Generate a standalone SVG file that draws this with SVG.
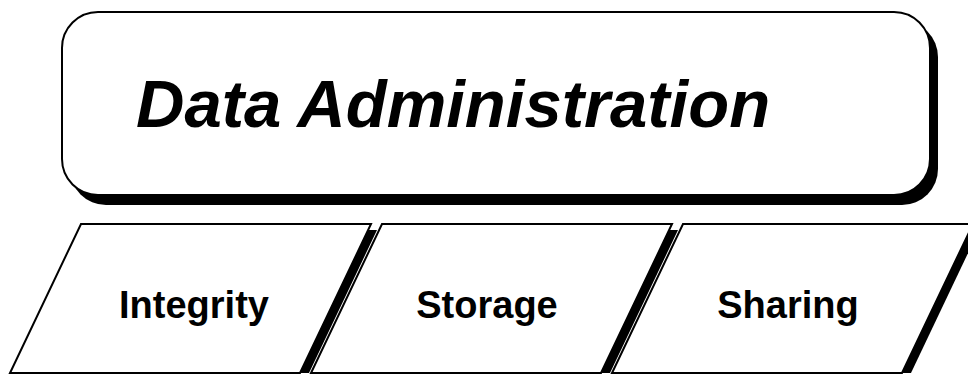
<svg xmlns="http://www.w3.org/2000/svg" width="968" height="375" viewBox="0 0 968 375">
<style>
.shape{fill:#fff;stroke:#000;stroke-width:2}
.shadow{fill:#000;stroke:none}
.title{font-family:"Liberation Sans",Arial,sans-serif;font-weight:bold;font-style:italic;font-size:67px;fill:#000}
.label{font-family:"Liberation Sans",Arial,sans-serif;font-weight:bold;font-size:38px;fill:#000;text-anchor:middle}
</style>
<rect width="968" height="375" fill="#fff"/>
<g id="data-administration">
<rect class="shadow" x="70" y="21" width="868" height="184" rx="36" ry="36"/>
<rect class="shape" x="62" y="12" width="868" height="183" rx="36" ry="36"/>
<text class="title" x="136" y="127">Data Administration</text>
</g>
<g id="integrity">
<polygon class="shadow" points="87,230 377,230 309,373 19,373"/>
<polygon class="shape" points="81,224 371,224 300,373 10,373"/>
<text class="label" x="194" y="318">Integrity</text>
</g>
<g id="storage">
<polygon class="shadow" points="388,230 678,230 610,373 320,373"/>
<polygon class="shape" points="382,224 672,224 601,373 311,373"/>
<text class="label" x="487" y="318">Storage</text>
</g>
<g id="sharing">
<polygon class="shadow" points="689,230 979,230 911,373 621,373"/>
<polygon class="shape" points="683,224 973,224 902,373 612,373"/>
<text class="label" x="788" y="318">Sharing</text>
</g>
<g id="connectors"/>
</svg>
